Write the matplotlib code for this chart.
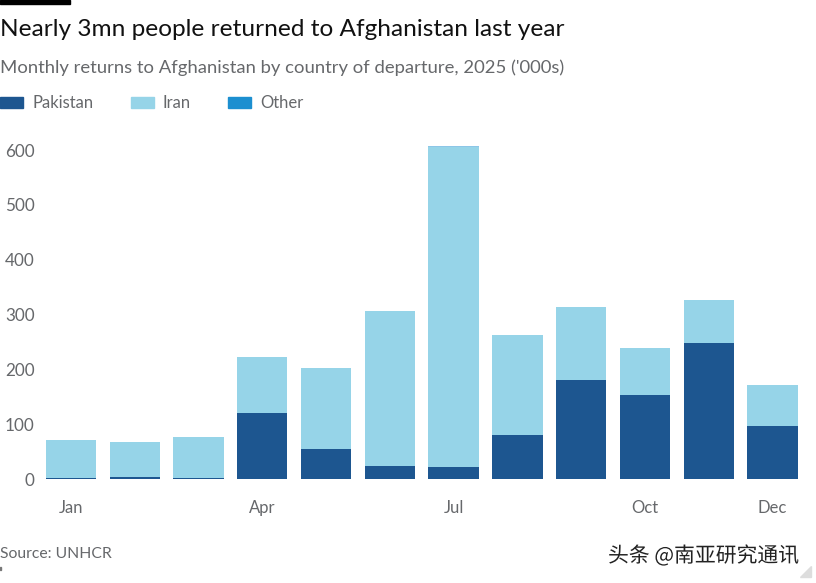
"""FT style stacked bars of monthly returns to Afghanistan."""

import matplotlib
matplotlib.use('Agg')
import matplotlib.pyplot as plt
import matplotlib.patheffects as pe
from matplotlib.patches import Polygon, Rectangle
import numpy as np

months = ['Jan', 'Feb', 'Mar', 'Apr', 'May', 'Jun',
          'Jul', 'Aug', 'Sep', 'Oct', 'Nov', 'Dec']
pakistan = [2, 4, 2, 120, 55, 23, 21, 81, 181, 154, 248, 97]
iran = [69, 64, 75, 102, 147, 283, 585, 182, 132, 85, 79, 75]
other = [0, 0, 0, 0, 0, 0, 0.5, 0, 0, 0, 0, 0]
tick_months = ['Jan', 'Apr', 'Jul', 'Oct', 'Dec']
y_ticks = [0, 100, 200, 300, 400, 500, 600]

W, H = 816, 583
C_PAK = '#1d5690'
C_IRAN = '#96d4e8'
C_OTHER = '#1c8fd0'
GREY = '#66686b'

plt.rcParams['font.family'] = ['Lato', 'DejaVu Sans']


def fx(px):
    return px / W


def fy(py):
    return 1 - py / H


fig = plt.figure(figsize=(W / 100, H / 100), dpi=100, facecolor='white')

# axes box in pixels: bottom sits on the zero line
left, right, top, bottom = 40, 806, 130, 479
ax = fig.add_axes([fx(left), fy(bottom), (right - left) / W, (bottom - top) / H])
ax.set_facecolor('none')

step = 63.77
x = np.arange(12)
ax.set_xlim((left - 71) / step, (right - 71) / step)
ax.set_ylim(0, (bottom - top) / 0.5483)

pak = np.array(pakistan)
ir = np.array(iran)
ax.bar(x, pakistan, width=0.79, color=C_PAK)
ax.bar(x, iran, width=0.79, bottom=pak, color=C_IRAN)
ax.bar(x, other, width=0.79, bottom=pak + ir, color=C_OTHER, alpha=0.5)

for s in ax.spines.values():
    s.set_visible(False)

ax.set_yticks(y_ticks)
ax.tick_params(axis='y', length=0, pad=4, labelsize=12.3, labelcolor=GREY)
ax.set_xticks([months.index(m) for m in tick_months])
ax.set_xticklabels(tick_months)
ax.tick_params(axis='x', length=0, pad=15, labelsize=12, labelcolor=GREY)

# header and footer
fig.add_artist(Rectangle((0, fy(4)), fx(70), 4 / H, color='black',
                         transform=fig.transFigure))
fig.text(fx(0), fy(30), 'Nearly 3mn people returned to Afghanistan last year',
         fontsize=17.6, color='#111111', va='center', ha='left')
fig.text(fx(0), fy(68), "Monthly returns to Afghanistan by country of departure, 2025 ('000s)",
         fontsize=13.3, color=GREY, va='center', ha='left')
fig.text(fx(0), fy(554), 'Source: UNHCR', fontsize=11.3, color=GREY,
         va='center', ha='left')
fig.add_artist(Rectangle((0, fy(570)), 1 / W, 3 / H, color='#777777',
                         transform=fig.transFigure))

# legend
for px, label, color in [(0, 'Pakistan', C_PAK), (131, 'Iran', C_IRAN),
                         (228, 'Other', C_OTHER)]:
    fig.add_artist(Rectangle((fx(px), fy(108)), 23 / W, 11 / H, color=color,
                             transform=fig.transFigure))
    fig.text(fx(px + 33 - (2 if px == 131 else 1 if px == 228 else 0)), fy(103), label,
             fontsize=12, color=GREY, va='center', ha='left')

# watermark
fig.text(fx(608), fy(556), '头条 @南亚研究通讯', fontsize=15, color='#222222',
         family=['Noto Sans CJK SC', 'DejaVu Sans'], va='center', ha='left',
         path_effects=[pe.withStroke(linewidth=1.5, foreground='white')])
fig.add_artist(Polygon([(fx(800), fy(577)), (fx(811), fy(577)), (fx(811), fy(566))],
                       closed=True, color='#dddddd', transform=fig.transFigure))

fig.savefig('out.png', dpi=100)
